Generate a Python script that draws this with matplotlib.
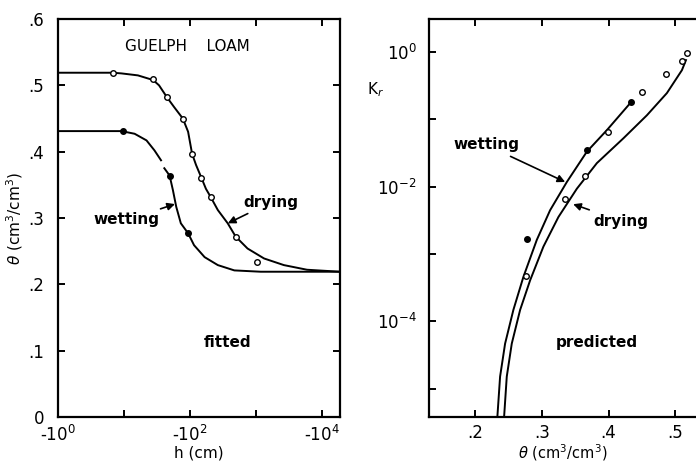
import matplotlib
matplotlib.use('Agg')
import matplotlib.pyplot as plt
import numpy as np

plt.rcParams['font.family'] = ['DejaVu Sans']
plt.rcParams['mathtext.fontset'] = 'dejavusans'

# ---- left panel: theta(h) ----
# drying curve (log10|h|, theta)
dry_logh = [0.03, 0.83, 0.96, 1.21, 1.44, 1.53, 1.65, 1.76, 1.89, 1.97, 2.03,
            2.09, 2.17, 2.24, 2.31, 2.42, 2.57, 2.69, 2.87, 3.12, 3.42, 3.77,
            4.27]
dry_theta = [0.519, 0.519, 0.518, 0.515, 0.508, 0.500, 0.482, 0.467, 0.450,
             0.430, 0.397, 0.380, 0.361, 0.344, 0.332, 0.312, 0.292, 0.272,
             0.254, 0.239, 0.229, 0.222, 0.219]
# wetting curve, drawn in two pieces (small gap in the original)
wet1_logh = [0.03, 0.96, 1.16, 1.34, 1.46, 1.56]
wet1_theta = [0.431, 0.431, 0.427, 0.417, 0.402, 0.387]
wet2_logh = [1.61, 1.69, 1.74, 1.79, 1.86, 1.97, 2.06, 2.22, 2.42, 2.67,
             3.07, 3.82, 4.27]
wet2_theta = [0.375, 0.364, 0.342, 0.317, 0.292, 0.277, 0.259, 0.241, 0.229,
              0.221, 0.219, 0.219, 0.219]
# measured points
dry_pts_logh = [0.84, 1.44, 1.65, 1.89, 2.03, 2.17, 2.31, 2.69, 3.02]
dry_pts_theta = [0.519, 0.509, 0.482, 0.450, 0.397, 0.361, 0.332, 0.272, 0.234]
wet_pts_logh = [0.98, 1.69, 1.97]
wet_pts_theta = [0.431, 0.364, 0.277]

# ---- right panel: Kr(theta) ----
wetK_theta = [0.2334, 0.2375, 0.245, 0.2574, 0.2724, 0.2925, 0.3124, 0.3375,
              0.3675, 0.3975, 0.4324]
wetK_logk = [-5.42, -4.82, -4.33, -3.83, -3.34, -2.79, -2.35, -1.93, -1.48,
             -1.16, -0.76]
dryK_theta = [0.2435, 0.2475, 0.255, 0.2675, 0.2825, 0.3024, 0.3249, 0.3525,
              0.3825, 0.4224, 0.4574, 0.4874, 0.5099, 0.5160]
dryK_logk = [-5.42, -4.82, -4.33, -3.83, -3.39, -2.89, -2.45, -2.03, -1.65,
             -1.28, -0.94, -0.61, -0.27, -0.12]
dryK_pts_theta = [0.518, 0.510, 0.486, 0.450, 0.399, 0.364, 0.334, 0.276]
dryK_pts_logk = [-0.01, -0.14, -0.33, -0.60, -1.19, -1.84, -2.18, -3.33]
wetK_pts_theta = [0.433, 0.368, 0.278]
wetK_pts_logk = [-0.74, -1.46, -2.78]

lw = 1.4
fs = 11

fig = plt.figure(figsize=(6.96, 4.62), dpi=100)
ax1 = fig.add_axes([58/696, 45/462, 282/696, 398/462])
ax2 = fig.add_axes([429/696, 45/462, 267/696, 398/462])

# left
p = lambda v: 10.0 ** np.array(v)
ax1.plot(p(dry_logh), dry_theta, 'k-', lw=lw)
ax1.plot(p(wet1_logh), wet1_theta, 'k-', lw=lw)
ax1.plot(p(wet2_logh), wet2_theta, 'k-', lw=lw)
ax1.plot(p(dry_pts_logh), dry_pts_theta, 'o', mfc='white', mec='k', ms=4, mew=1)
ax1.plot(p(wet_pts_logh), wet_pts_theta, 'o', mfc='k', mec='k', ms=4)
ax1.set_xscale('log')
ax1.set_xlim(10**0.03, 10**4.27)
ax1.set_ylim(0, 0.6)
ax1.set_xticks([1, 10, 100, 1000, 10000])
ax1.set_xticklabels(['-10$^{0}$', '', '-10$^{2}$', '', '-10$^{4}$'])
ax1.xaxis.set_minor_locator(matplotlib.ticker.NullLocator())
ax1.set_yticks([0, 0.1, 0.2, 0.3, 0.4, 0.5, 0.6])
ax1.set_yticklabels(['0', '.1', '.2', '.3', '.4', '.5', '.6'])
ax1.tick_params(direction='in', length=5, width=1.4, top=True, right=True,
                labelsize=12)
ax1.tick_params(axis='y', pad=10)
ax1.tick_params(axis='x', pad=6)
ax1.set_xlabel('h (cm)', fontsize=fs, labelpad=0)
ax1.set_ylabel(r'$\theta$ (cm$^3$/cm$^3$)', fontsize=fs, labelpad=2)
ax1.text(0.46, 0.93, 'GUELPH    LOAM', transform=ax1.transAxes, ha='center',
         va='center', fontsize=fs)
ax1.text(0.603, 0.188, 'fitted', transform=ax1.transAxes, ha='center',
         va='center', fontsize=fs, fontweight='bold')
ax1.annotate('wetting', xy=(59, 0.321), xytext=(11, 0.297), fontsize=fs,
             fontweight='bold', ha='center', va='center',
             arrowprops=dict(arrowstyle='-|>', color='k', lw=1.2,
                             shrinkA=2, shrinkB=0))
ax1.annotate('drying', xy=(373, 0.292), xytext=(1700, 0.324), fontsize=fs,
             fontweight='bold', ha='center', va='center',
             arrowprops=dict(arrowstyle='-|>', color='k', lw=1.2,
                             shrinkA=2, shrinkB=0))
for s in ax1.spines.values():
    s.set_linewidth(1.6)

# right
ax2.plot(wetK_theta, p(wetK_logk), 'k-', lw=lw)
ax2.plot(dryK_theta, p(dryK_logk), 'k-', lw=lw)
ax2.plot(dryK_pts_theta, p(dryK_pts_logk), 'o', mfc='white', mec='k', ms=4, mew=1)
ax2.plot(wetK_pts_theta, p(wetK_pts_logk), 'o', mfc='k', mec='k', ms=4)
ax2.set_yscale('log')
ax2.set_xlim(0.131, 0.531)
ax2.set_ylim(10**-5.42, 10**0.49)
ax2.set_xticks([0.2, 0.3, 0.4, 0.5])
ax2.set_xticklabels(['.2', '.3', '.4', '.5'])
ax2.set_yticks([1, 1e-1, 1e-2, 1e-3, 1e-4, 1e-5])
ax2.set_yticklabels([r'$10^{0}$', '', r'$10^{-2}$', '', r'$10^{-4}$', ''])
ax2.yaxis.set_minor_locator(matplotlib.ticker.NullLocator())
ax2.tick_params(direction='in', length=5, width=1.4, top=True, right=False,
                labelsize=12)
ax2.tick_params(axis='y', pad=9)
ax2.tick_params(axis='x', pad=5)
ax2.spines['right'].set_visible(False)
for s in ax2.spines.values():
    s.set_linewidth(1.6)
ax2.set_xlabel(r'$\theta$ (cm$^3$/cm$^3$)', fontsize=10.5, labelpad=0)
fig.text(376/696, 1 - 90/462, r'K$_r$', fontsize=fs, ha='center', va='center')
ax2.text(0.629, 0.188, 'predicted', transform=ax2.transAxes, ha='center',
         va='center', fontsize=fs, fontweight='bold')
ax2.annotate('wetting', xy=(0.335, 10**-1.93), xytext=(0.2165, 10**-1.38),
             fontsize=fs, fontweight='bold', ha='center', va='center',
             arrowprops=dict(arrowstyle='-|>', color='k', lw=1.2,
                             shrinkA=2, shrinkB=0))
ax2.annotate('drying', xy=(0.347, 10**-2.26), xytext=(0.419, 10**-2.51),
             fontsize=fs, fontweight='bold', ha='center', va='center',
             arrowprops=dict(arrowstyle='-|>', color='k', lw=1.2,
                             shrinkA=2, shrinkB=0))

fig.savefig('out.png', dpi=100)
